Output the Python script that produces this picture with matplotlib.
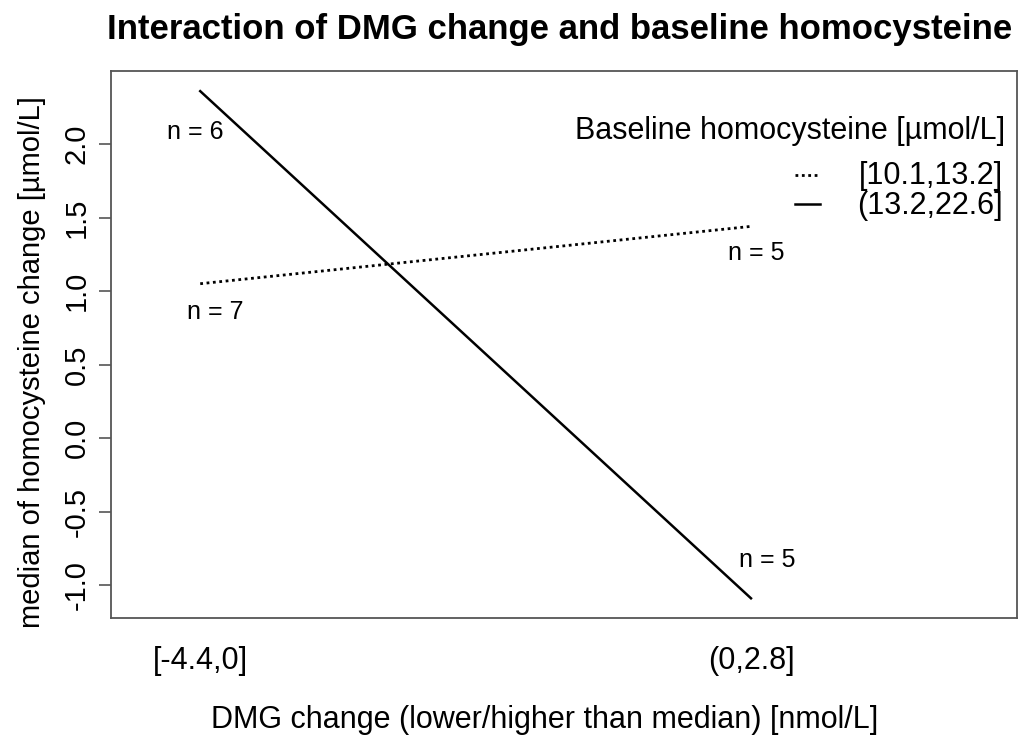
import matplotlib.pyplot as plt

plt.rcParams['font.family'] = ['Liberation Sans', 'DejaVu Sans']

# - DATA - #
dmg_groups = ["[-4.4,0]", "(0,2.8]"]
hcy_groups = ["[10.1,13.2]", "(13.2,22.6]"]
low_hcy = [1.05, 1.44]     # dotted
high_hcy = [2.36, -1.09]   # solid
n_low = ["n = 7", "n = 5"]
n_high = ["n = 6", "n = 5"]

fs = 21    # vertical texts
fsh = 22   # horizontal texts (reference glyphs are a touch wider)
fig = plt.figure(figsize=(10.24, 7.47), dpi=100)
ax = fig.add_axes([111/1024, 1 - 618/747, (1017-111)/1024, (618-71)/747])

x = [1, 2]
ax.plot(x, low_hcy, color="black", lw=2.0, linestyle=(0, (1, 1.3)))
ax.plot(x, high_hcy, color="black", lw=1.8)

# n labels
ax.text(0.991, 2.08, n_high[0], ha="center", va="center", fontsize=18)
ax.text(1.027, 0.86, n_low[0], ha="center", va="center", fontsize=18)
ax.text(2.01, 1.26, n_low[1], ha="center", va="center", fontsize=18)
ax.text(2.03, -0.83, n_high[1], ha="center", va="center", fontsize=18)

ax.set_xlim(0.838, 2.483)
ax.set_ylim(-1.224, 2.497)
ax.set_xticks(x)
ax.set_xticklabels(dmg_groups, fontsize=fsh)
ax.tick_params(axis="x", length=0, pad=20)
ax.set_yticks([-1.0, -0.5, 0.0, 0.5, 1.0, 1.5, 2.0])
ax.set_yticklabels(["-1.0", "-0.5", "0.0", "0.5", "1.0", "1.5", "2.0"],
                   rotation=90, va="center", fontsize=fs)
ax.tick_params(axis="y", length=8.6, width=1.2, color="#555555", pad=6)
for s in ax.spines.values():
    s.set_color("#555555")
    s.set_linewidth(1.3)

# legend drawn by hand, like R's interaction.plot
ax.text(2.462, 2.09, "Baseline homocysteine [\u00b5mol/L]", ha="right", va="center", fontsize=fsh)
ax.plot([2.08, 2.125], [1.79, 1.79], color="black", lw=2.0, linestyle=(0, (1, 1.3)))
ax.plot([2.08, 2.125], [1.59, 1.59], color="black", lw=1.8)
ax.text(2.458, 1.78, hcy_groups[0], ha="right", va="center", fontsize=fsh)
ax.text(2.458, 1.58, hcy_groups[1], ha="right", va="center", fontsize=fsh)

fig.text(545/1024, 1 - 720/747, "DMG change (lower/higher than median) [nmol/L]",
         ha="center", va="center", fontsize=fsh)
fig.text(32/1024, 1 - 362/747, "median of homocysteine change [\u00b5mol/L]",
         ha="center", va="center", rotation=90, fontsize=fs)
fig.text(560/1024, 1 - 29/747, "Interaction of DMG change and baseline homocysteine",
         ha="center", va="center", fontsize=25, fontweight="bold")

plt.savefig("out.png", dpi=100)
